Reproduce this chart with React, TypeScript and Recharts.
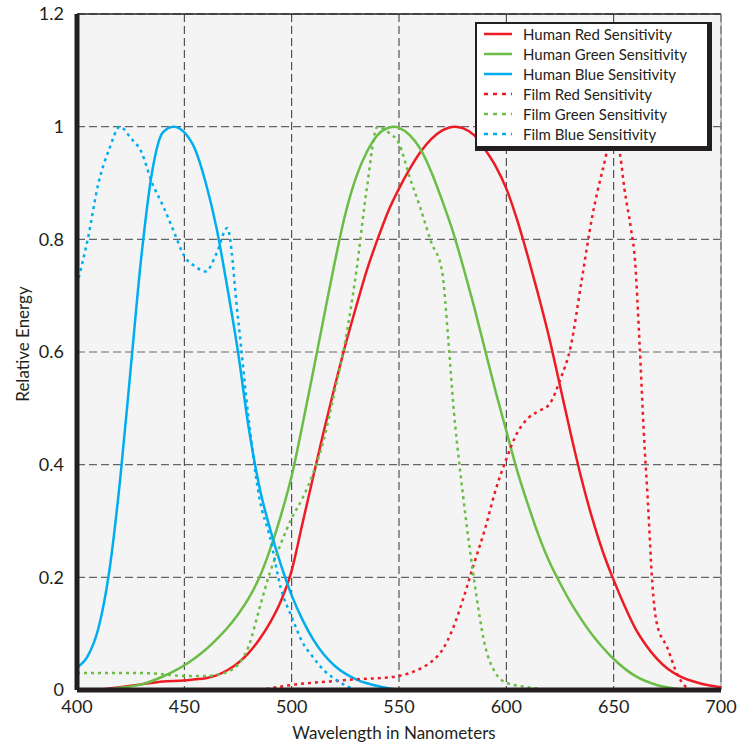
import React from "react";
import { LineChart, Line, XAxis, YAxis, CartesianGrid, ReferenceLine, Label } from "recharts";

type Pt = { nm: number; v: number };
const pts = (a: number[][]): Pt[] => a.map(([nm, v]) => ({ nm, v }));

const humanRed = pts([
  [410, 0], [420, 0.005], [430, 0.01], [440, 0.015], [450, 0.017], [455, 0.019], [460, 0.021],
  [465, 0.026], [470, 0.035], [475, 0.048], [480, 0.066], [485, 0.09], [490, 0.12], [495, 0.158],
  [500, 0.212], [505, 0.295], [510, 0.378], [515, 0.46], [520, 0.538], [525, 0.612], [530, 0.68],
  [535, 0.745], [540, 0.8], [545, 0.85], [550, 0.89], [555, 0.925], [560, 0.955], [565, 0.978],
  [570, 0.993], [576, 1.0], [580, 0.997], [585, 0.985], [590, 0.96], [595, 0.93], [600, 0.89],
  [605, 0.835], [610, 0.77], [615, 0.7], [620, 0.625], [625, 0.54], [630, 0.455], [635, 0.375],
  [640, 0.305], [645, 0.245], [650, 0.195], [655, 0.15], [660, 0.11], [665, 0.08], [670, 0.056],
  [675, 0.038], [680, 0.026], [690, 0.012], [700, 0.005],
]);

const humanGreen = pts([
  [412, 0], [420, 0.004], [430, 0.01], [440, 0.024], [445, 0.033], [450, 0.044], [455, 0.057],
  [460, 0.072], [465, 0.09], [470, 0.11], [475, 0.134], [480, 0.163], [485, 0.2], [490, 0.25],
  [495, 0.31], [500, 0.38], [505, 0.47], [510, 0.565], [515, 0.662], [520, 0.758], [525, 0.845],
  [530, 0.91], [535, 0.955], [540, 0.985], [545, 0.998], [548, 1.0], [550, 0.998], [555, 0.985],
  [560, 0.96], [565, 0.92], [570, 0.87], [575, 0.815], [580, 0.75], [585, 0.68], [590, 0.605],
  [595, 0.53], [600, 0.46], [605, 0.39], [610, 0.33], [615, 0.275], [620, 0.228], [625, 0.19],
  [630, 0.155], [635, 0.125], [640, 0.098], [645, 0.075], [650, 0.055], [660, 0.025], [670, 0.009],
  [680, 0.002], [686, 0],
]);

const humanBlue = pts([
  [400, 0.04], [405, 0.06], [410, 0.11], [415, 0.21], [420, 0.37], [425, 0.57], [430, 0.77],
  [435, 0.92], [440, 0.99], [445, 1.0], [450, 0.99], [455, 0.96], [460, 0.9], [465, 0.82],
  [470, 0.715], [475, 0.6], [480, 0.465], [485, 0.36], [490, 0.285], [495, 0.222], [500, 0.168],
  [505, 0.125], [510, 0.09], [515, 0.063], [520, 0.043], [525, 0.029], [530, 0.019], [535, 0.012],
  [540, 0.007], [545, 0.003], [550, 0],
]);

const filmRed = pts([
  [485, 0], [490, 0.003], [500, 0.009], [510, 0.013], [520, 0.016], [530, 0.019], [540, 0.021],
  [550, 0.025], [555, 0.03], [560, 0.038], [565, 0.05], [570, 0.07], [575, 0.108], [580, 0.163],
  [585, 0.225], [590, 0.285], [595, 0.355], [600, 0.41], [605, 0.456], [610, 0.482], [615, 0.495],
  [620, 0.507], [625, 0.55], [630, 0.61], [635, 0.725], [640, 0.84], [645, 0.925], [650, 0.99],
  [653, 0.95], [655, 0.89], [658, 0.82], [660, 0.76], [662, 0.62], [664, 0.46], [666, 0.33],
  [668, 0.19], [670, 0.12], [675, 0.075], [680, 0.025], [685, 0],
]);

const filmGreen = pts([
  [400, 0.03], [410, 0.03], [420, 0.03], [430, 0.03], [440, 0.028], [450, 0.025], [460, 0.025],
  [465, 0.027], [470, 0.032], [475, 0.045], [480, 0.078], [485, 0.145], [490, 0.21], [495, 0.26],
  [500, 0.305], [505, 0.34], [510, 0.385], [515, 0.445], [520, 0.53], [525, 0.62], [530, 0.74],
  [535, 0.89], [540, 1.0], [545, 0.99], [550, 0.97], [555, 0.91], [560, 0.855], [565, 0.795],
  [570, 0.745], [573, 0.62], [575, 0.52], [580, 0.34], [585, 0.195], [590, 0.08], [595, 0.03],
  [600, 0.013], [610, 0.005], [620, 0],
]);

const filmBlue = pts([
  [400, 0.72], [405, 0.8], [410, 0.9], [415, 0.96], [420, 1.0], [425, 0.98], [430, 0.955],
  [435, 0.9], [440, 0.86], [445, 0.815], [450, 0.77], [455, 0.752], [460, 0.743], [465, 0.775],
  [470, 0.82], [475, 0.66], [480, 0.48], [485, 0.34], [490, 0.27], [495, 0.18], [500, 0.13],
  [505, 0.085], [510, 0.058], [515, 0.035], [520, 0.02], [525, 0.008], [530, 0],
]);

const xTicks = [400, 450, 500, 550, 600, 650, 700];
const yTicks = [0, 0.2, 0.4, 0.6, 0.8, 1, 1.2];

const RED = "#ed1c24";
const GREEN = "#6abd45";
const BLUE = "#00aeef";

const series = [
  { name: "Human Red Sensitivity", data: humanRed, color: RED, dashed: false },
  { name: "Human Green Sensitivity", data: humanGreen, color: GREEN, dashed: false },
  { name: "Human Blue Sensitivity", data: humanBlue, color: BLUE, dashed: false },
  { name: "Film Red Sensitivity", data: filmRed, color: RED, dashed: true },
  { name: "Film Green Sensitivity", data: filmGreen, color: GREEN, dashed: true },
  { name: "Film Blue Sensitivity", data: filmBlue, color: BLUE, dashed: true },
];

const FONT = "Lato, 'Open Sans', sans-serif";
const INK = "#231f20";

const YTitle = (props: any) => {
  const vb = props.viewBox || { x: 0, y: 14, width: 77, height: 676 };
  const cx = vb.x + 22;
  const cy = vb.y + vb.height / 2 - 8;
  return (
    <text
      x={cx}
      y={cy}
      transform={`rotate(-90, ${cx}, ${cy})`}
      textAnchor="middle"
      dominantBaseline="central"
      fontFamily={FONT}
      fontSize={17}
      fill={INK}
    >
      Relative Energy
    </text>
  );
};

export default function App() {
  return (
    <div style={{ position: "absolute", left: 0, top: 0, width: 738, height: 746, background: "#fff", fontFamily: FONT }}>
      <LineChart width={738} height={746} margin={{ top: 14, right: 17, left: 0, bottom: 0 }}>
        <CartesianGrid stroke="#666" strokeWidth={1.2} strokeDasharray="8 4" fill="#f4f4f4" vertical={false} />
        <CartesianGrid stroke="#333" strokeWidth={1} strokeDasharray="8 4" horizontal={false} />
        <XAxis
          dataKey="nm"
          type="number"
          domain={[400, 700]}
          ticks={xTicks}
          allowDataOverflow
          height={56}
          tickSize={0}
          tickMargin={10}
          tick={{ fill: INK, fontSize: 18, fontFamily: FONT }}
          axisLine={{ stroke: INK, strokeWidth: 5 }}
        >
          <Label value="Wavelength in Nanometers" position="insideBottom" offset={7} dx={-5} style={{ fill: INK, fontSize: 17, fontFamily: FONT }} />
        </XAxis>
        <YAxis
          type="number"
          domain={[0, 1.2]}
          ticks={yTicks}
          allowDataOverflow
          width={77}
          tickSize={0}
          tickMargin={13}
          tick={{ fill: INK, fontSize: 18, fontFamily: FONT }}
          axisLine={{ stroke: INK, strokeWidth: 5 }}
        >
          <Label content={<YTitle />} />
        </YAxis>
        <ReferenceLine y={1.2} stroke={INK} strokeWidth={1.5} />
        <ReferenceLine x={700} stroke="#888" strokeWidth={1} />
        {series.map((s) => (
          <Line
            key={s.name}
            data={s.data}
            dataKey="v"
            name={s.name}
            type="monotone"
            stroke={s.color}
            strokeWidth={2.5}
            strokeDasharray={s.dashed ? "3 4" : undefined}
            dot={false}
            activeDot={false}
            isAnimationActive={false}
          />
        ))}
      </LineChart>
      <div
        style={{
          position: "absolute",
          left: 475,
          top: 22,
          background: "#fff",
          borderTop: `2px solid ${INK}`,
          borderLeft: `2px solid ${INK}`,
          borderRight: `5px solid ${INK}`,
          borderBottom: `5px solid ${INK}`,
          padding: "0px 6px 2px 6px",
          width: 218,
          boxSizing: "content-box",
        }}
      >
        {series.map((s) => (
          <div key={s.name} style={{ display: "flex", alignItems: "center", height: 20 }}>
            <svg width={30} height={20} style={{ flex: "none" }}>
              <line x1={1} y1={10} x2={29} y2={10} stroke={s.color} strokeWidth={2.5} strokeDasharray={s.dashed ? "4 5" : undefined} />
            </svg>
            <span style={{ marginLeft: 10, fontSize: 15, color: INK, fontFamily: FONT, whiteSpace: "nowrap", lineHeight: "20px" }}>
              {s.name}
            </span>
          </div>
        ))}
      </div>
    </div>
  );
}
